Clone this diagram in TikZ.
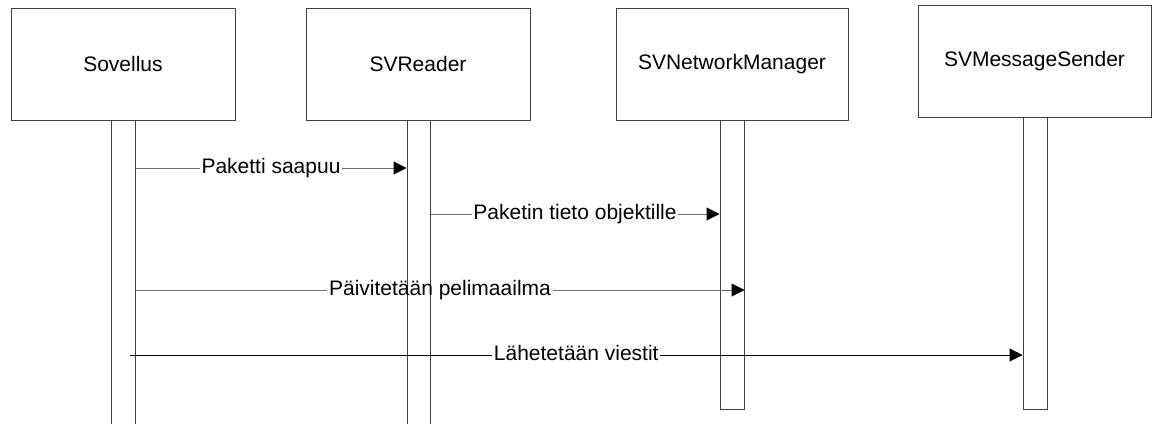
\documentclass[tikz,border=0pt]{standalone}
\usepackage{fontspec}
\setmainfont{Liberation Sans}
\usetikzlibrary{arrows.meta,calc}
\definecolor{boxc}{HTML}{404040}
\definecolor{msgc}{HTML}{707070}
\begin{document}
\begin{tikzpicture}[x=1pt,y=-1pt,
  font=\fontsize{21}{25}\selectfont,
  obj/.style={draw=boxc,line width=1pt,rectangle,minimum height=112pt,inner sep=0pt},
  bar/.style={draw=boxc,line width=1pt,rectangle,minimum width=24pt,inner sep=0pt},
  lbl/.style={inner sep=1.5pt,text height=15pt,text depth=4pt},
  msg/.style={draw=msgc,line width=1pt},
  msgk/.style={draw=black,line width=1pt},
  tip/.style={-{Triangle[length=13pt,width=13pt,color=black,fill=black]}}]
\useasboundingbox (0,0) rectangle (1156,423);
\clip (0,0) rectangle (1156,423);
% lifeline boxes
\node[obj,minimum width=224pt] (s) at (123,64) {Sovellus};
\node[obj,minimum width=224pt] (r) at (418,64) {SVReader};
\node[obj,minimum width=232pt] (n) at (732,64) {SVNetworkManager};
\node[obj,minimum width=233pt,minimum height=112pt] (m) at (1034.5,61) {SVMessageSender};
% activation bars
\node[bar,minimum height=320pt] (sb) at (123,280) {};
\node[bar,minimum height=320pt,minimum width=23pt] (rb) at (418.5,280) {};
\node[bar,minimum height=289pt] (nb) at (732,264.5) {};
\node[bar,minimum height=292pt] (mb) at (1035,263) {};
% message levels
\coordinate (y1) at (0,168);
\coordinate (y2) at (0,214);
\coordinate (y3) at (0,290);
\coordinate (y4) at (0,355);
\coordinate (st4) at (130,355);
% message 1
\node[lbl] (l1) at ($(sb.east |- y1)!0.5!(rb.west |- y1)$) {Paketti saapuu};
\draw[msg] (sb.east |- y1) -- (l1.west);
\draw[msg,tip] (l1.east) -- (rb.west |- y1);
% message 2
\node[lbl] (l2) at ($(rb.east |- y2)!0.5!(nb.west |- y2)$) {Paketin tieto objektille};
\draw[msg] (rb.east |- y2) -- (l2.west);
\draw[msg,tip] (l2.east) -- (nb.west |- y2);
% message 3
\node[lbl] (l3) at ($(sb.east |- y3)!0.5!(nb.east |- y3)$) {Päivitetään pelimaailma};
\draw[msg] (sb.east |- y3) -- (l3.west);
\draw[msg,tip] (l3.east) -- (nb.east |- y3);
% message 4
\node[lbl] (l4) at ($(st4)!0.5!(mb.west |- y4)$) {Lähetetään viestit};
\draw[msgk] (st4) -- (l4.west);
\draw[msgk,tip] (l4.east) -- (mb.west |- y4);
\end{tikzpicture}
\end{document}
